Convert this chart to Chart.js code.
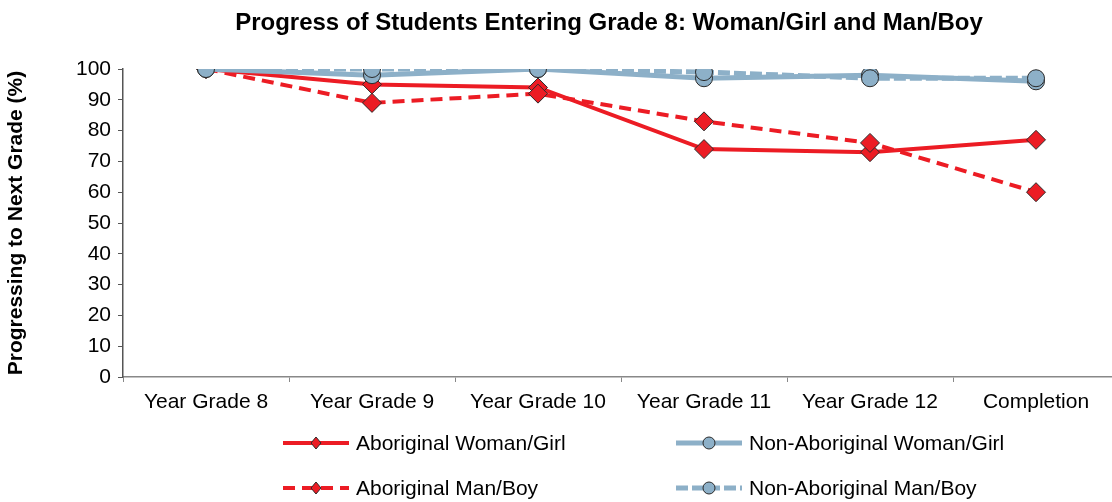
<!DOCTYPE html>
<html>
<head>
<meta charset="utf-8">
<script src="https://cdn.jsdelivr.net/npm/chart.js@4"></script>
<style>
  html, body { margin: 0; padding: 0; background: #fff; overflow: hidden; }
  #wrap { width: 1119px; height: 502px; position: relative; }
</style>
</head>
<body>
<div id="wrap"><canvas id="chart" width="1119" height="502"></canvas></div>
<script>
// 学年ごとの進級率データ
const categories = ['Year Grade 8', 'Year Grade 9', 'Year Grade 10', 'Year Grade 11', 'Year Grade 12', 'Completion'];
const aboriginalWomanGirl = [100, 95, 94, 74, 73, 77];
const aboriginalManBoy = [100, 89, 92, 83, 76, 60];
const nonAboriginalWomanGirl = [100, 98, 100, 97, 98, 96];
const nonAboriginalManBoy = [100, 100, 100, 99, 97, 97];
const yMin = 0;
const yMax = 100;
const yStep = 10;

const RED = '#ec1c24';
const BLUE = '#8db0c8';
const FONT = "'Liberation Sans', Arial, sans-serif";

function makeSeries(label, data, color, dash, style, width, order) {
    return {
        label: label,
        data: data,
        borderColor: color,
        backgroundColor: color,
        borderWidth: width,
        borderDash: dash,
        pointStyle: style,
        pointRadius: style === 'circle' ? 8.5 : 9.5,
        pointHoverRadius: style === 'circle' ? 8.5 : 9.5,
        pointBorderColor: '#2b2b2b',
        pointBorderWidth: 1,
        pointBackgroundColor: color,
        tension: 0,
        order: order
    };
}

// 凡例（2列×2行）とタイトルを描くプラグイン
const legendPlugin = {
    id: 'gridLegend',
    afterDraw(chart) {
        const ctx = chart.ctx;
        ctx.save();
        ctx.fillStyle = '#000';
        ctx.font = 'bold 24px ' + FONT;
        ctx.textAlign = 'center';
        ctx.textBaseline = 'middle';
        ctx.fillText('Progress of Students Entering Grade 8: Woman/Girl and Man/Boy', 609, 23);

        const slots = [
            { x: 283, y: 443 },
            { x: 676, y: 443 },
            { x: 283, y: 488 },
            { x: 676, y: 488 }
        ];
        chart.data.datasets.forEach((ds, i) => {
            const s = slots[i];
            const len = 66;
            const cx = s.x + len / 2;
            ctx.strokeStyle = ds.borderColor;
            ctx.lineWidth = ds.borderWidth;
            ctx.setLineDash(ds.borderDash || []);
            ctx.beginPath();
            ctx.moveTo(s.x, s.y);
            ctx.lineTo(s.x + len, s.y);
            ctx.stroke();
            ctx.setLineDash([]);
            ctx.fillStyle = ds.pointBackgroundColor;
            ctx.strokeStyle = ds.pointBorderColor;
            ctx.lineWidth = 1;
            ctx.beginPath();
            if (ds.pointStyle === 'circle') {
                ctx.arc(cx, s.y, 6, 0, Math.PI * 2);
            } else {
                ctx.moveTo(cx, s.y - 6);
                ctx.lineTo(cx + 5, s.y);
                ctx.lineTo(cx, s.y + 6);
                ctx.lineTo(cx - 5, s.y);
                ctx.closePath();
            }
            ctx.fill();
            ctx.stroke();
            ctx.fillStyle = '#000';
            ctx.font = '21px ' + FONT;
            ctx.textAlign = 'left';
            ctx.fillText(ds.label, s.x + len + 7, s.y + 1);
        });
        ctx.restore();
    }
};

const chart = new Chart(document.getElementById('chart'), {
    type: 'line',
    data: {
        labels: categories,
        datasets: [
            makeSeries('Aboriginal Woman/Girl', aboriginalWomanGirl, RED, [], 'rectRot', 4, 4),
            makeSeries('Non-Aboriginal Woman/Girl', nonAboriginalWomanGirl, BLUE, [], 'circle', 5, 2),
            makeSeries('Aboriginal Man/Boy', aboriginalManBoy, RED, [12, 7], 'rectRot', 4, 3),
            makeSeries('Non-Aboriginal Man/Boy', nonAboriginalManBoy, BLUE, [12, 4], 'circle', 5, 1)
        ]
    },
    options: {
        responsive: false,
        animation: false,
        layout: {
            autoPadding: false,
            padding: { top: 69, bottom: 85, left: 0, right: 0 }
        },
        plugins: {
            legend: { display: false },
            title: { display: false },
            tooltip: { enabled: false }
        },
        scales: {
            x: {
                offset: true,
                grid: {
                    offset: true,
                    drawOnChartArea: false,
                    drawTicks: true,
                    tickLength: 5,
                    color: '#888'
                },
                border: { color: '#888', width: 1.5 },
                ticks: {
                    color: '#000',
                    font: { family: FONT, size: 21 },
                    padding: 8,
                    maxRotation: 0,
                    autoSkip: false
                },
                afterFit(scale) {
                    scale.height = 40;
                    scale.paddingLeft = 0;
                    scale.paddingRight = 0;
                }
            },
            y: {
                min: yMin,
                max: yMax,
                grid: {
                    drawOnChartArea: false,
                    drawTicks: true,
                    tickLength: 5,
                    color: '#555'
                },
                border: { color: '#555', width: 1.5 },
                ticks: {
                    stepSize: yStep,
                    color: '#000',
                    font: { family: FONT, size: 21 },
                    padding: 7
                },
                title: {
                    display: true,
                    text: 'Progressing to Next Grade (%)',
                    color: '#000',
                    font: { family: FONT, size: 21, weight: 'bold' },
                    padding: { top: 4, bottom: 4 }
                },
                afterFit(scale) { scale.width = 123; }
            }
        }
    },
    plugins: [legendPlugin]
});
</script>
</body>
</html>
